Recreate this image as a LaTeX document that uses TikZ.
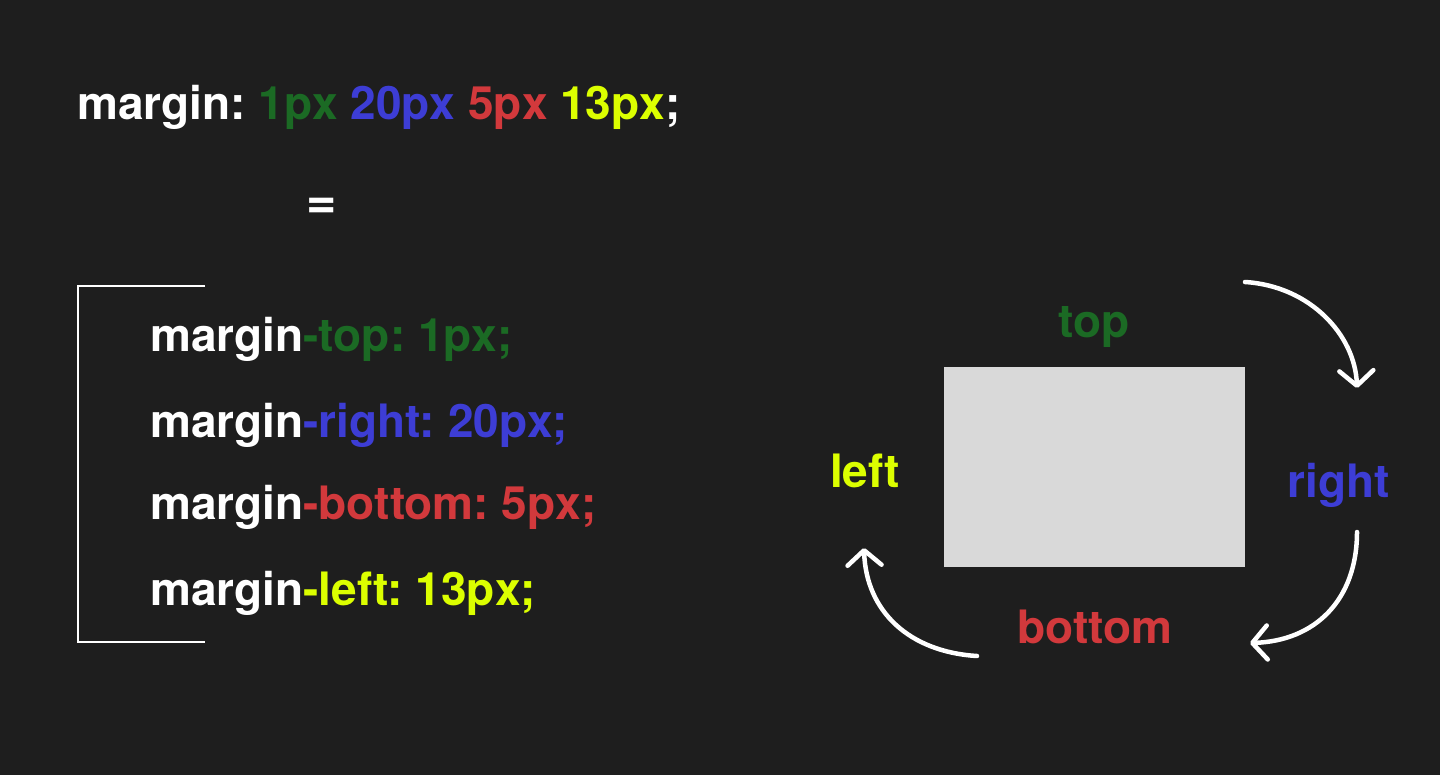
\documentclass[tikz,border=0pt]{standalone}
\usepackage{fontspec}
\setmainfont{TeX Gyre Heros}
\usetikzlibrary{arrows.meta}
\definecolor{bgdark}{HTML}{1E1E1E}
\definecolor{cssgreen}{HTML}{1B6A24}
\definecolor{cssblue}{HTML}{3D3DD5}
\definecolor{cssred}{HTML}{D2393C}
\definecolor{cssyellow}{HTML}{DCFF00}
\definecolor{boxgray}{HTML}{D9D9D9}
\frenchspacing

\begin{document}
\begin{tikzpicture}[x=1pt,y=-1pt,
    txt/.style={font=\fontsize{46}{50}\selectfont\bfseries, inner sep=0pt, text=white},
    turn/.style={draw=white, line width=4.5pt, line cap=round,
      -{Straight Barb[length=15pt,width=34pt,round]}}]
  \fill[bgdark] (0,0) rectangle (1440,775);
  \useasboundingbox (0,0) rectangle (1440,775);
  % shorthand
  \node[txt, anchor=base west] (short) at (77,120)
    {margin: \textcolor{cssgreen}{1px} \textcolor{cssblue}{20px} \textcolor{cssred}{5px} \textcolor{cssyellow}{13px};};
  \node[txt, anchor=base] (eq) at (322,219) {\fontsize{52}{56}\selectfont=};
  % longhand
  \draw[white, line width=1.5pt] (205,286) -- (78,286) -- (78,642) -- (205,642);
  \node[txt, anchor=base west] (mtop) at (150,352) {margin\textcolor{cssgreen}{-top: 1px;}};
  \node[txt, anchor=base west] (mright) at (150,437) {margin\textcolor{cssblue}{-right: 20px;}};
  \node[txt, anchor=base west] (mbottom) at (150,519) {margin\textcolor{cssred}{-bottom: 5px;}};
  \node[txt, anchor=base west] (mleft) at (150,605) {margin\textcolor{cssyellow}{-left: 13px;}};
  % box and sides
  \node[fill=boxgray, minimum width=301pt, minimum height=200pt, inner sep=0pt, anchor=north west] (box) at (944,367) {};
  \node[txt, text=cssgreen, anchor=base] (top) at (1094,338) {top};
  \node[txt, text=cssblue, anchor=base] (right) at (1339,497) {right};
  \node[txt, text=cssred, anchor=base] (bottom) at (1095,643) {bottom};
  \node[txt, text=cssyellow, anchor=base] (left) at (865,487) {left};
  % clockwise arrows
  \coordinate (a1) at (1245,282);
  \coordinate (b1) at (1357,388);
  \coordinate (a2) at (1357,532);
  \coordinate (b2) at (1250,643);
  \coordinate (a3) at (977,656);
  \coordinate (b3) at (864,548);
  \draw[turn] (a1) .. controls (1310,286) and (1355,335) .. (b1);
  \draw[turn] (a2) .. controls (1357,600) and (1315,641) .. (b2);
  \draw[turn] (a3) .. controls (910,652) and (866,612) .. (b3);
\end{tikzpicture}
\end{document}
